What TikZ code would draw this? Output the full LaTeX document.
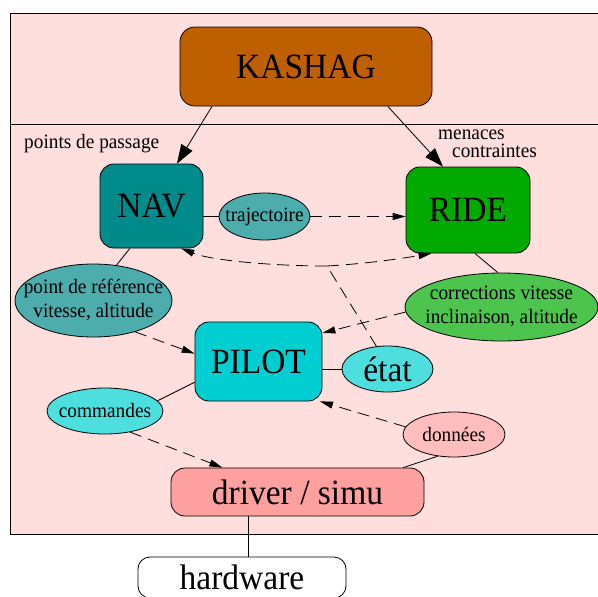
\documentclass[tikz,border=0pt]{standalone}
\usepackage{fontspec}
\usepackage{graphicx}
\setmainfont{Liberation Serif}
\usetikzlibrary{arrows.meta,calc,shapes.geometric}
\definecolor{bgpink}{RGB}{255,222,222}
\definecolor{kashagc}{RGB}{191,96,0}
\definecolor{navc}{RGB}{0,139,139}
\definecolor{ridec}{RGB}{0,170,0}
\definecolor{pilotc}{RGB}{0,206,209}
\definecolor{driverc}{RGB}{255,160,160}
\definecolor{navlt}{RGB}{77,173,173}
\definecolor{ridelt}{RGB}{77,196,77}
\definecolor{pilotlt}{RGB}{77,222,222}
\definecolor{driverlt}{RGB}{255,189,189}
\newcommand\bigfont{\fontsize{33.5}{36}\selectfont}
\newcommand\smallfont{\fontsize{19.3}{22.5}\selectfont}
\newcommand\vs[1]{\scalebox{1}[1.06]{#1}}
\newcommand\zw[1]{\makebox[0pt]{\vs{#1}}}
\newcommand\zt[2]{\makebox[0pt]{\vs{\begin{tabular}{@{}c@{}}#1\\#2\end{tabular}}}}
\tikzset{
  box/.style={draw=black, line width=0.8pt, rounded corners=14pt, inner sep=0pt, font=\bigfont},
  oval/.style={ellipse, draw=black, line width=0.8pt, inner sep=0pt, font=\smallfont},
  conn/.style={line width=0.8pt},
  dconn/.style={line width=0.8pt, dash pattern=on 12pt off 7pt, -{Triangle[length=13pt,width=7pt]}},
  dline/.style={line width=0.8pt, dash pattern=on 12pt off 7pt},
  bigarrow/.style={line width=0.8pt, -{Triangle[length=19pt,width=13pt]}},
  lbl/.style={inner sep=0pt, font=\smallfont}
}
\begin{document}
\begin{tikzpicture}[x=1pt,y=-1pt]
\useasboundingbox (0,0) rectangle (598,597);
% cluster
\draw[fill=bgpink, line width=0.8pt] (10,13) rectangle (640,534);
\draw[line width=0.8pt] (10,124) -- (640,124);
% nodes
\node[box, fill=kashagc, rounded corners=15pt, minimum width=252, minimum height=79] (kashag) at (306,66.5) {\vs{KASHAG}};
\node[box, fill=navc, minimum width=103, minimum height=84] (nav) at (151.5,206) {\vs{NAV}};
\node[box, fill=ridec, minimum width=124, minimum height=86] (ride) at (468,210) {\vs{RIDE}};
\node[box, fill=pilotc, minimum width=127, minimum height=79] (pilot) at (258.5,361.5) {\vs{PILOT}};
\node[box, fill=driverc, minimum width=253, minimum height=48] (driver) at (297.5,492) {\vs{driver / simu}};
\node[box, fill=white, rounded corners=12pt, minimum width=208, minimum height=41] (hardware) at (242,577.5) {\vs{hardware}};
\node[oval, fill=navlt, minimum width=91, minimum height=47] (traj) at (264.5,216.5) {\zw{trajectoire}};
\node[oval, fill=navlt, minimum width=157, minimum height=73] (pdr) at (93.5,300.5) {\zt{point de référence}{vitesse, altitude}};
\node[oval, fill=ridelt, minimum width=193, minimum height=68] (corr) at (501.5,307) {\zt{corrections vitesse}{inclinaison, altitude}};
\node[oval, fill=pilotlt, minimum width=91, minimum height=46, font=\bigfont] (etat) at (387.5,369) {\zw{état}};
\node[oval, fill=pilotlt, minimum width=116, minimum height=46] (cmd) at (105,411) {\zw{commandes}};
\node[oval, fill=driverlt, minimum width=102, minimum height=45] (don) at (454,434.5) {\zw{données}};
% labels
\node[lbl, anchor=base west] (lpass) at (24,148) {\vs{points de passage}};
\node[lbl, anchor=base west] (lmen) at (438,139) {\vs{menaces}};
\node[lbl, anchor=base west] (lcon) at (452,157) {\vs{contraintes}};
% edges
\draw[bigarrow] (kashag.203) -- (nav.59.3);
\draw[bigarrow] (kashag.-26.3) -- (ride.120);
\draw[conn] (traj.west) -- (traj.west -| nav.east);
\draw[dconn] (traj.east) -- (traj.east -| ride.west);
\draw[conn] (nav.-117) -- (pdr.57.6);
\draw[dconn] (pdr.-37) -- (pilot.173);
\draw[conn] (ride.-81) -- (corr.96);
\draw[dconn] (corr.183) -- (pilot.24.6);
\draw[conn] (etat.west) -- (etat.west -| pilot.east);
\draw[conn] (pilot.198.4) -- (cmd.11.7);
\draw[dconn] (cmd.-40) -- (driver.162);
\draw[dconn] (don.171) -- (pilot.-33);
\draw[conn] (don.233) -- (driver.13.6);
\path (driver.south west) ++(78,0) coordinate (dh);
\draw[conn] (dh) -- (dh |- hardware.north);
\coordinate (J) at (327,266);
\draw[dline] (etat.116.6) -- (J);
\draw[dconn] (J) .. controls +(-55,0) and +(30,12) .. (nav.-55);
\draw[dconn] (J) .. controls +(35,-2) and +(-35,6) .. (ride.230);
\end{tikzpicture}
\end{document}
